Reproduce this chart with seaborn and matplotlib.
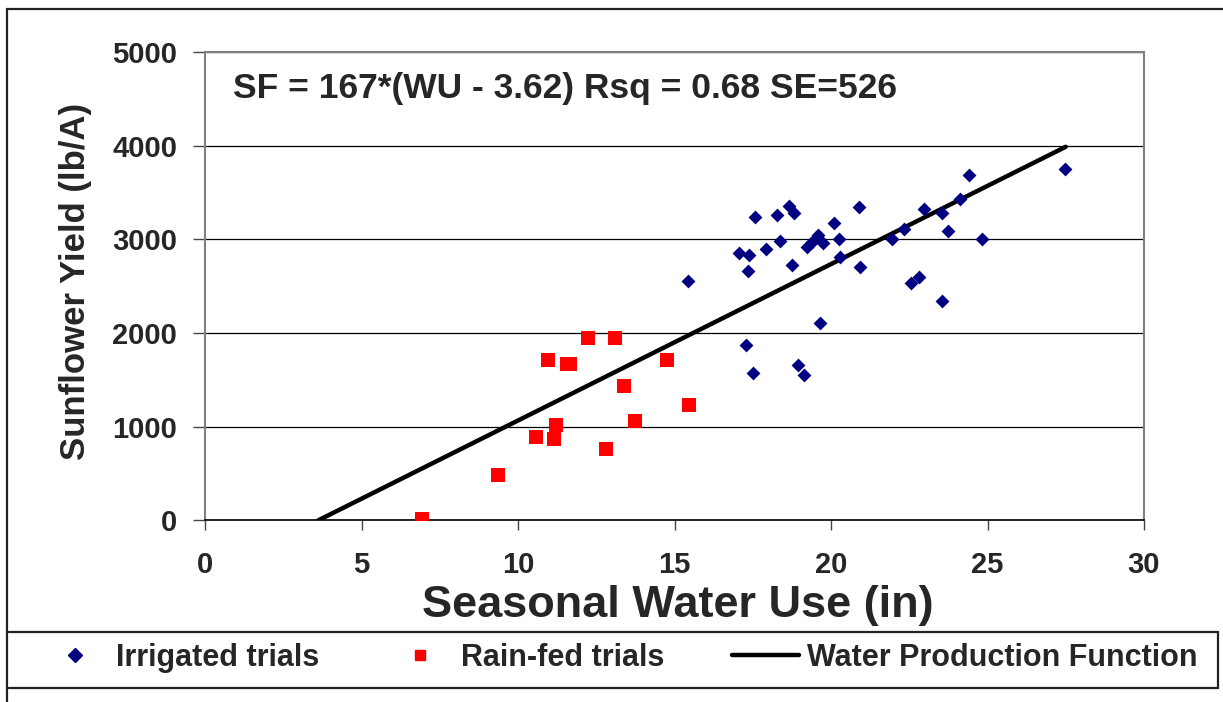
import numpy as np
import pandas as pd
import matplotlib
matplotlib.use("Agg")
import matplotlib.pyplot as plt
from matplotlib.lines import Line2D
import seaborn as sns

# --- data ---
irr_wu = [15.43, 17.06, 17.37, 17.35, 17.58, 17.93, 18.28, 18.37, 18.65, 18.81,
          18.74, 19.22, 19.38, 19.60, 19.75, 20.08, 20.25, 20.30, 20.88, 20.94,
          19.65, 17.29, 17.51, 18.94, 19.15, 21.95, 22.33, 22.54, 22.81, 22.96,
          23.54, 24.11, 24.40, 23.75, 24.84, 23.54, 27.49]
irr_yield = [2559, 2853, 2832, 2665, 3237, 2900, 3262, 2985, 3354, 3279,
             2729, 2917, 2970, 3041, 2960, 3177, 3006, 2810, 3347, 2704,
             2111, 1876, 1574, 1663, 1556, 3002, 3109, 2533, 2597, 3326,
             3280, 3429, 3689, 3092, 3006, 2341, 3753]

rain_wu = [12.23, 13.09, 10.95, 11.55, 11.66, 14.75, 13.38, 15.46, 11.23, 10.58,
           11.15, 13.74, 12.80, 9.36, 6.92]
rain_yield = [1951, 1951, 1716, 1674, 1674, 1716, 1439, 1226, 1013, 885,
              864, 1055, 757, 480, 11]

line_wu = [3.62, 27.5]
line_yield = [0, 3988]

x_ticks = [0, 5, 10, 15, 20, 25, 30]
y_ticks = [0, 1000, 2000, 3000, 4000, 5000]

irr = pd.DataFrame({"WU": irr_wu, "Yield": irr_yield})
rain = pd.DataFrame({"WU": rain_wu, "Yield": rain_yield})
wpf = pd.DataFrame({"WU": line_wu, "Yield": line_yield})

sns.set_style("white")
plt.rcParams["font.family"] = ["Liberation Sans", "DejaVu Sans"]
plt.rcParams["font.weight"] = "bold"

W, H = 1223, 702
fig = plt.figure(figsize=(W / 100, H / 100), dpi=100)
ax = fig.add_axes([205 / W, 1 - 520.3 / H, (1144 - 205) / W, (520.3 - 52) / H])

sns.lineplot(data=wpf, x="WU", y="Yield", ax=ax, color="black", linewidth=3.2,
             legend=False, zorder=3)
sns.scatterplot(data=irr, x="WU", y="Yield", ax=ax, color="#000080", marker="D",
                s=50, linewidth=0, legend=False, zorder=4)
sns.scatterplot(data=rain, x="WU", y="Yield", ax=ax, color="#FF0000", marker="s",
                s=88, linewidth=0, legend=False, zorder=4)

ax.set_xlim(0, 30)
ax.set_ylim(0, 5000)
ax.set_xticks(x_ticks)
ax.set_yticks(y_ticks)
ax.yaxis.grid(True, color="black", linewidth=0.9)
ax.set_axisbelow(True)

for side in ["left", "top", "right"]:
    ax.spines[side].set_color("#808080")
    ax.spines[side].set_linewidth(1.5)
ax.spines["bottom"].set_color("black")
ax.spines["bottom"].set_linewidth(1.2)

ax.tick_params(axis="y", direction="out", length=9, width=1, color="#444444",
               labelsize=21, pad=11, left=True)
ax.tick_params(axis="x", direction="out", length=7, width=1, color="#444444",
               labelsize=21, pad=15, bottom=True)
for lab in ax.get_xticklabels() + ax.get_yticklabels():
    lab.set_fontweight("bold")

ax.set_xlabel("Seasonal Water Use (in)", fontsize=32.5, fontweight="bold")
ax.set_ylabel("Sunflower Yield (lb/A)", fontsize=25, fontweight="bold")
ax.xaxis.label.set_verticalalignment("center")
ax.yaxis.label.set_verticalalignment("center")
ax.xaxis.set_label_coords(0.504, -0.181)
ax.yaxis.set_label_coords(-0.138, 0.509)

ax.text(0.9, 4610, "SF = 167*(WU - 3.62) Rsq = 0.68 SE=526", fontsize=25.5,
        fontweight="bold", va="center", ha="left")

# legend along the bottom
handles = [
    Line2D([], [], color="#000080", marker="D", linestyle="none", markersize=7),
    Line2D([], [], color="#FF0000", marker="s", linestyle="none", markersize=7.5),
    Line2D([], [], color="black", linewidth=3.2),
]
labels = ["Irrigated trials", "Rain-fed trials", "Water Production Function"]
fig.legend(handles, labels, loc="center left", ncol=3, frameon=False,
           bbox_to_anchor=(41 / W, 1 - 658 / H), borderpad=0, borderaxespad=0,
           columnspacing=2.2, handlelength=2.2, handletextpad=0.25,
           prop={"weight": "bold", "size": 22})

# chart-area and legend borders
lc = "#222222"
fig.add_artist(Line2D([7 / W, 1], [1 - 9 / H, 1 - 9 / H], color=lc, lw=1.6))
fig.add_artist(Line2D([7 / W, 7 / W], [0, 1 - 9 / H], color=lc, lw=1.6))
fig.add_artist(Line2D([7 / W, 1218 / W], [1 - 632 / H, 1 - 632 / H], color=lc, lw=1.6))
fig.add_artist(Line2D([7 / W, 1218 / W], [1 - 688 / H, 1 - 688 / H], color=lc, lw=1.6))
fig.add_artist(Line2D([1218 / W, 1218 / W], [1 - 688 / H, 1 - 632 / H], color=lc, lw=1.6))

fig.savefig("out.png", dpi=100)
